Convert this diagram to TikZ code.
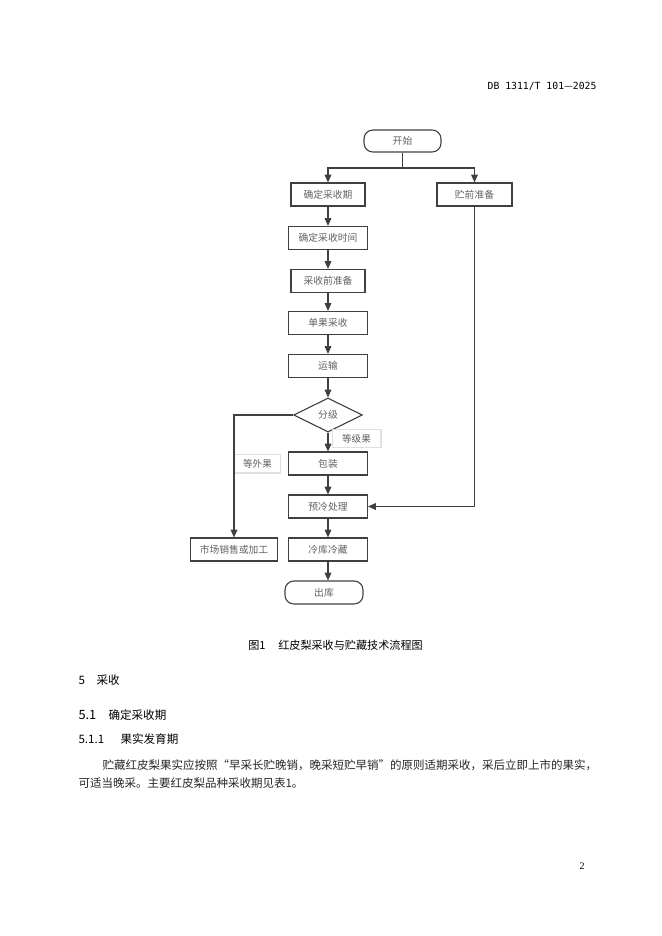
\documentclass[tikz,border=0pt]{standalone}
\usepackage{fontspec}
\setmainfont{Liberation Serif}
\newfontfamily\cjk{Noto Sans CJK SC}
\newfontfamily\cjkfw[CharacterWidth=Full]{Noto Sans CJK SC}
\newfontfamily\monohead{DejaVu Sans Mono}
\usepackage{tikz}
\usetikzlibrary{arrows.meta,positioning,shapes.geometric}

\begin{document}
\begin{tikzpicture}[x=0.9pt,y=-0.9pt,
  stepbox/.style={draw=black!75, line width=1pt, minimum width=71pt,
    minimum height=20.7pt, inner sep=0pt, font=\cjk\fontsize{8.8}{10}\selectfont,
    text=black!62},
  terminal/.style={stepbox, rounded corners=8pt},
  decision/.style={stepbox, diamond, minimum width=62pt, minimum height=30.6pt},
  tag/.style={draw=black!12, fill=white, inner sep=0pt, minimum width=43pt,
    minimum height=15.5pt, font=\cjk\fontsize{8.6}{10}\selectfont, text=black!62},
  head/.style={anchor=west, inner sep=0pt, font=\cjk\fontsize{10.4}{12}\selectfont},
  body/.style={anchor=west, inner sep=0pt, font=\cjk\fontsize{10.35}{12}\selectfont,
    text=black!85},
  ->,>={Triangle[length=7pt,width=6pt]},line width=1pt,draw=black!75
]
\useasboundingbox (0,0) rectangle (662,936);

% page header
\node[anchor=east, inner sep=0pt, font=\fontsize{8.8}{10}\selectfont] (docno) at (597,86)
  {\monohead DB 1311/T 101{\cjk —}2025};

% flow chart
\node[terminal, minimum width=69.3pt, minimum height=19.8pt] (start) at (402.5,141) {开始};
\node[stepbox, minimum width=66.6pt] (period) at (328,194.5) {确定采收期};
\node[stepbox, minimum width=67.5pt] (prestore) at (474.5,194.5) {贮前准备};
\node[stepbox] (time) at (328,238) {确定采收时间};
\node[stepbox, minimum width=66.6pt] (prepare) at (328,281) {采收前准备};
\node[stepbox] (pick) at (328,323) {单果采收};
\node[stepbox] (transport) at (328,366) {运输};
\node[decision] (grade) at (328,415) {分级};
\node[stepbox] (pack) at (328,463.5) {包装};
\node[stepbox] (precool) at (328,506.5) {预冷处理};
\node[stepbox, minimum width=79pt] (market) at (234,549.5) {市场销售或加工};
\node[stepbox] (cold) at (328,549.5) {冷库冷藏};
\node[terminal, minimum width=70.2pt] (out) at (324,592.5) {出库};
\node[tag, minimum width=44pt] (gradeA) at (356.5,438.5) {等级果};
\node[tag, minimum width=41pt, minimum height=17pt] (offgrade) at (257.5,463.5) {等外果};

\coordinate (split) at (402.5,168);
\draw[-] (start) -- (split);
\draw (split) -| (period);
\draw (split) -| (prestore);
\draw (period) -- (time);
\draw (time) -- (prepare);
\draw (prepare) -- (pick);
\draw (pick) -- (transport);
\draw (transport) -- (grade);
\draw (grade) -- (pack);
\draw (grade) -| (market);
\draw (pack) -- (precool);
\draw (prestore) |- (precool);
\draw (precool) -- (cold);
\draw (cold.south) -- (cold.south |- out.north);

% caption and text
\node[inner sep=0pt, font=\cjk\fontsize{10}{12}\selectfont] (caption) at (335.5,645)
  {图1\hspace{1.15em}红皮梨采收与贮藏技术流程图};
\node[head] (sec5num) at (78,680) {5};
\node[head] (sec5) at (96,680) {采收};
\node[head, font=\cjk\fontsize{11.5}{12}\selectfont] (sec51num) at (78,715) {5.1};
\node[head] (sec51) at (108,715) {确定采收期};
\node[head] (sec511num) at (78,739.5) {5.1.1};
\node[head] (sec511) at (120,739.5) {果实发育期};
\node[body] (line1) at (102,765)
  {贮藏红皮梨果实应按照{\cjkfw “}早采长贮晚销，晚采短贮早销{\cjkfw ”}的原则适期采收，采后立即上市的果实，};
\node[body] (line2) at (78,783) {可适当晚采。主要红皮梨品种采收期见表1。};

\node[inner sep=0pt, font=\fontsize{9}{10}\selectfont] (pageno) at (582,866) {2};
\end{tikzpicture}
\end{document}
